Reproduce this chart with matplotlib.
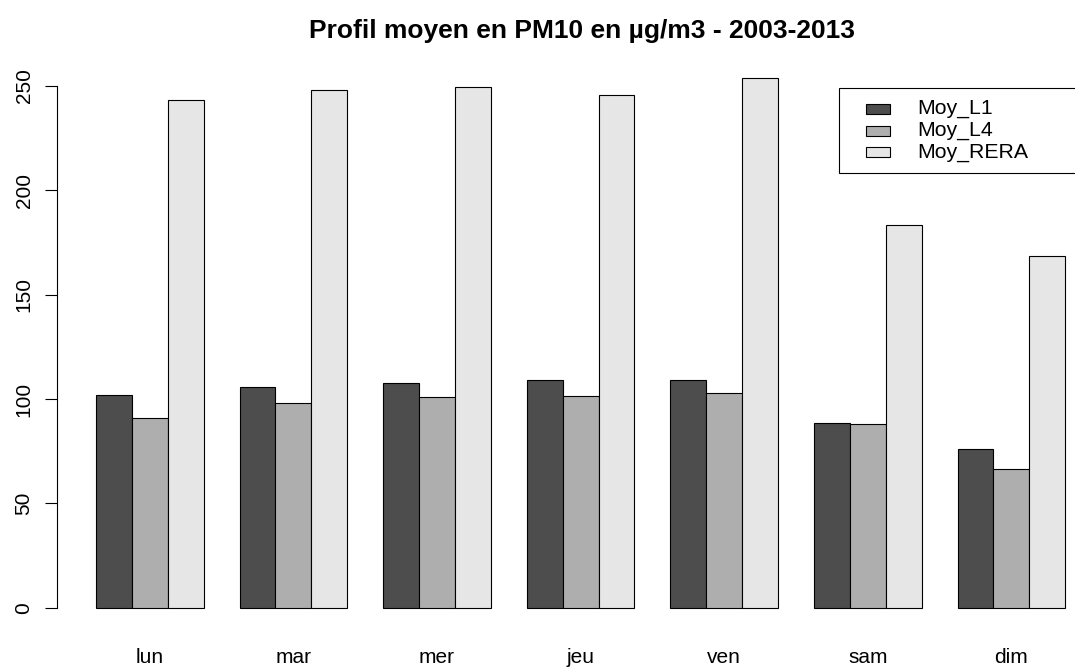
import matplotlib
matplotlib.use("Agg")
import matplotlib.pyplot as plt
from matplotlib.patches import Rectangle
import numpy as np

plt.rcParams['font.family'] = ['Liberation Sans', 'DejaVu Sans']

days = ["lun", "mar", "mer", "jeu", "ven", "sam", "dim"]
series = ["Moy_L1", "Moy_L4", "Moy_RERA"]
moy_l1 = [101.8, 105.6, 107.6, 108.9, 108.9, 88.5, 75.9]
moy_l4 = [91.1, 98.3, 101.1, 101.6, 103.0, 87.9, 66.5]
moy_rera = [243.4, 247.9, 249.3, 245.4, 253.9, 183.2, 168.5]
colors = ["#4D4D4D", "#AEAEAE", "#E6E6E6"]

W, H = 1075, 668
fig = plt.figure(figsize=(W / 100, H / 100), dpi=100)
# plot region in pixels (R style): x 57..1104, y 56..629
ax = fig.add_axes([57.2 / W, 1 - 629 / H, (1104 - 57.2) / W, (629 - 56.4) / H])

values = [moy_l1, moy_l4, moy_rera]
g = np.arange(len(days))
for s, vals in enumerate(values):
    ax.bar(g * 4 + 1.5 + s, vals, width=1, color=colors[s],
           edgecolor="black", linewidth=0.8)

ymax = max(moy_rera)
ax.set_xlim(1 - 0.04 * 27, 28 + 0.04 * 27)
ax.set_ylim(-0.04 * ymax, ymax * 1.04)

for side in ["top", "right", "bottom"]:
    ax.spines[side].set_visible(False)
ax.spines["left"].set_bounds(0, 250)
ax.spines["left"].set_linewidth(0.8)
ax.set_yticks([0, 50, 100, 150, 200, 250])
ax.set_yticklabels(["0", "50", "100", "150", "200", "250"],
                   rotation=90, va="center", fontsize=15)
ax.tick_params(axis="y", length=9, width=0.8, pad=8)
ax.set_xticks(g * 4 + 2.5)
ax.set_xticklabels(days, fontsize=15)
ax.tick_params(axis="x", length=0, pad=14)

fig.text(582 / W, 1 - 31 / H,
         "Profil moyen en PM10 en µg/m3 - 2003-2013",
         ha="center", va="center", fontsize=19, fontweight="bold")

# legend drawn R-style
tf = fig.transFigure
fig.patches.append(Rectangle((839 / W, 1 - 173 / H), (1110 - 839) / W, 85 / H,
                             transform=tf, facecolor="white", edgecolor="black",
                             linewidth=0.8))
for i, name in enumerate(series):
    yc = 109 + i * 21.5
    fig.patches.append(Rectangle((866 / W, 1 - (yc + 5) / H), 24 / W, 10 / H,
                                 transform=tf, facecolor=colors[i],
                                 edgecolor="black", linewidth=0.8))
    fig.text(917 / W, 1 - yc / H, name, ha="left", va="center", fontsize=15.3)

fig.savefig("out.png", dpi=100)
